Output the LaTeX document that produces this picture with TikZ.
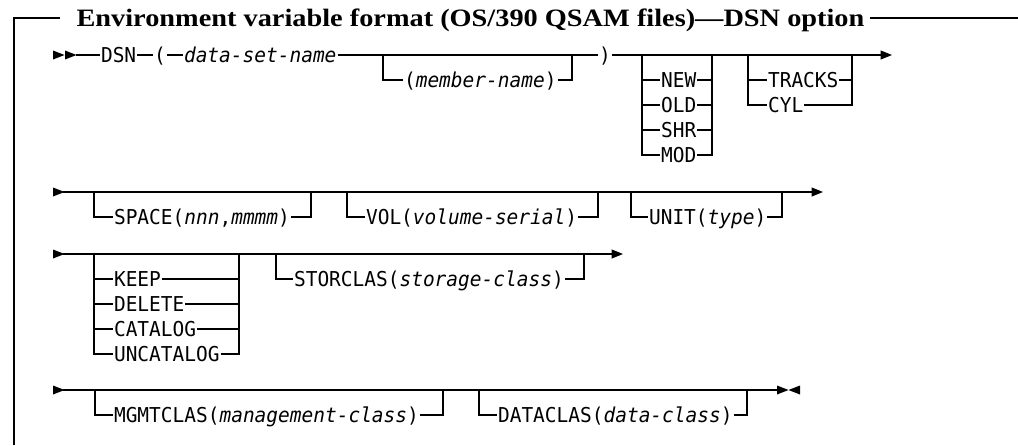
\documentclass[tikz,border=0pt]{standalone}
\usepackage{fontspec}
\usetikzlibrary{arrows.meta}
\newfontfamily\dmono[FakeStretch=0.95]{DejaVu Sans Mono}
\newfontfamily\ttlfont[FakeStretch=1.133]{Liberation Serif}
\begin{document}
\begin{tikzpicture}[x=1pt,y=-1pt,line width=1.1pt,
  txt/.style={font=\dmono\fontsize{20.5}{22}\selectfont,inner ysep=0pt,inner xsep=0.5pt,
    anchor=west,text height=18.9pt,text depth=4pt},
  endarrow/.style={-{Triangle[length=11.5pt,width=9pt]}},
  frameline/.style={line width=1.5pt},
  rtri/.pic={\fill (0,-4.5) -- (11.5,0) -- (0,4.5) -- cycle;},
  ltri/.pic={\fill (0,0) -- (11.5,-4.5) -- (11.5,4.5) -- cycle;}]
\useasboundingbox (0,0) rectangle (1018,445);

% frame and title
\node[font=\ttlfont\bfseries\fontsize{25}{29}\selectfont,inner sep=0pt,anchor=base west] (title) at (76,26.5)
  {Environment variable format (OS/390 QSAM files)—DSN option};
\coordinate (fb) at (14,445);
\coordinate (ftl) at (14,18);
\coordinate (tl) at (60,18);
\coordinate (tr) at (870,18);
\coordinate (ftr) at (1018,18);
\draw[frameline] (fb) -- (ftl) -- (tl);
\draw[frameline] (tr) -- (ftr);

% ---------- row 1 ----------
\pic at (53,55) {rtri};
\pic at (65,55) {rtri};
\coordinate (a1) at (76,55);
\node[txt] (dsn) at (100,55) {DSN};
\node[txt] (lp) at (153,55) {(};
\node[txt] (dsname) at (183,55) {\itshape data-set-name};
\node[txt] (mem) at (403,80) {(\textit{member-name})};
\node[txt] (rp) at (598,55) {)};
\coordinate (m1l) at (383,55);
\coordinate (m1r) at (572,55);
\draw (a1) -- (dsn.west);
\draw (dsn.east) -- (lp.west);
\draw (lp.east) -- (dsname.west);
\draw (dsname.east) -- (rp.west);
\draw (m1l) |- (mem.west);
\draw (mem.east) -| (m1r);
\coordinate (e1) at (892,55);
\draw[endarrow] (rp.east) -- (e1);

\coordinate (g1l) at (642,55);
\coordinate (g1r) at (712,55);
\node[txt] (new) at (660,80) {NEW};
\node[txt] (old) at (660,105) {OLD};
\node[txt] (shr) at (660,130) {SHR};
\node[txt] (mod) at (660,155) {MOD};
\draw (g1l) |- (mod.west);
\draw (g1l |- new) -- (new.west);
\draw (g1l |- old) -- (old.west);
\draw (g1l |- shr) -- (shr.west);
\draw (new.east) -- (g1r |- new);
\draw (old.east) -- (g1r |- old);
\draw (shr.east) -- (g1r |- shr);
\draw (mod.east) -| (g1r);

\coordinate (g2l) at (748,55);
\coordinate (g2r) at (852,55);
\node[txt] (tracks) at (767,80) {TRACKS};
\node[txt] (cyl) at (767,105) {CYL};
\draw (g2l) |- (cyl.west);
\draw (g2l |- tracks) -- (tracks.west);
\draw (tracks.east) -- (g2r |- tracks);
\draw (cyl.east) -| (g2r);

% ---------- row 2 ----------
\pic at (53,192) {rtri};
\coordinate (s2) at (63,192);
\coordinate (e2) at (823,192);
\draw[endarrow] (s2) -- (e2);
\coordinate (sl) at (94,192);
\coordinate (sr) at (311,192);
\node[txt] (space) at (113,217) {SPACE(\textit{nnn},\textit{mmmm})};
\draw (sl) |- (space.west);
\draw (space.east) -| (sr);
\coordinate (vl) at (347,192);
\coordinate (vr) at (598,192);
\node[txt] (vol) at (365,217) {VOL(\textit{volume-serial})};
\draw (vl) |- (vol.west);
\draw (vol.east) -| (vr);
\coordinate (ul) at (631,192);
\coordinate (ur) at (782,192);
\node[txt] (unit) at (648,217) {UNIT(\textit{type})};
\draw (ul) |- (unit.west);
\draw (unit.east) -| (ur);

% ---------- row 3 ----------
\pic at (53,254) {rtri};
\coordinate (s3) at (63,254);
\coordinate (e3) at (623,254);
\draw[endarrow] (s3) -- (e3);
\coordinate (kl) at (94,254);
\coordinate (kr) at (239,254);
\node[txt] (keep) at (113,279) {KEEP};
\node[txt] (delete) at (113,304) {DELETE};
\node[txt] (catalog) at (113,329) {CATALOG};
\node[txt] (uncatalog) at (113,354) {UNCATALOG};
\draw (kl) |- (uncatalog.west);
\draw (kl |- keep) -- (keep.west);
\draw (kl |- delete) -- (delete.west);
\draw (kl |- catalog) -- (catalog.west);
\draw (keep.east) -- (kr |- keep);
\draw (delete.east) -- (kr |- delete);
\draw (catalog.east) -- (kr |- catalog);
\draw (uncatalog.east) -| (kr);
\coordinate (stl) at (276,254);
\coordinate (str) at (584,254);
\node[txt] (storclas) at (293,279) {STORCLAS(\textit{storage-class})};
\draw (stl) |- (storclas.west);
\draw (storclas.east) -| (str);

% ---------- row 4 ----------
\pic at (53,390) {rtri};
\coordinate (s4) at (63,390);
\coordinate (e4) at (777,390);
\draw (s4) -- (e4);
\pic at (e4) {rtri};
\pic at (788.5,390) {ltri};
\coordinate (mgl) at (95,390);
\coordinate (mgr) at (443,390);
\node[txt] (mgmt) at (113,415) {MGMTCLAS(\textit{management-class})};
\draw (mgl) |- (mgmt.west);
\draw (mgmt.east) -| (mgr);
\coordinate (dcl) at (479,390);
\coordinate (dcr) at (747,390);
\node[txt] (datac) at (497,415) {DATACLAS(\textit{data-class})};
\draw (dcl) |- (datac.west);
\draw (datac.east) -| (dcr);
\end{tikzpicture}
\end{document}
